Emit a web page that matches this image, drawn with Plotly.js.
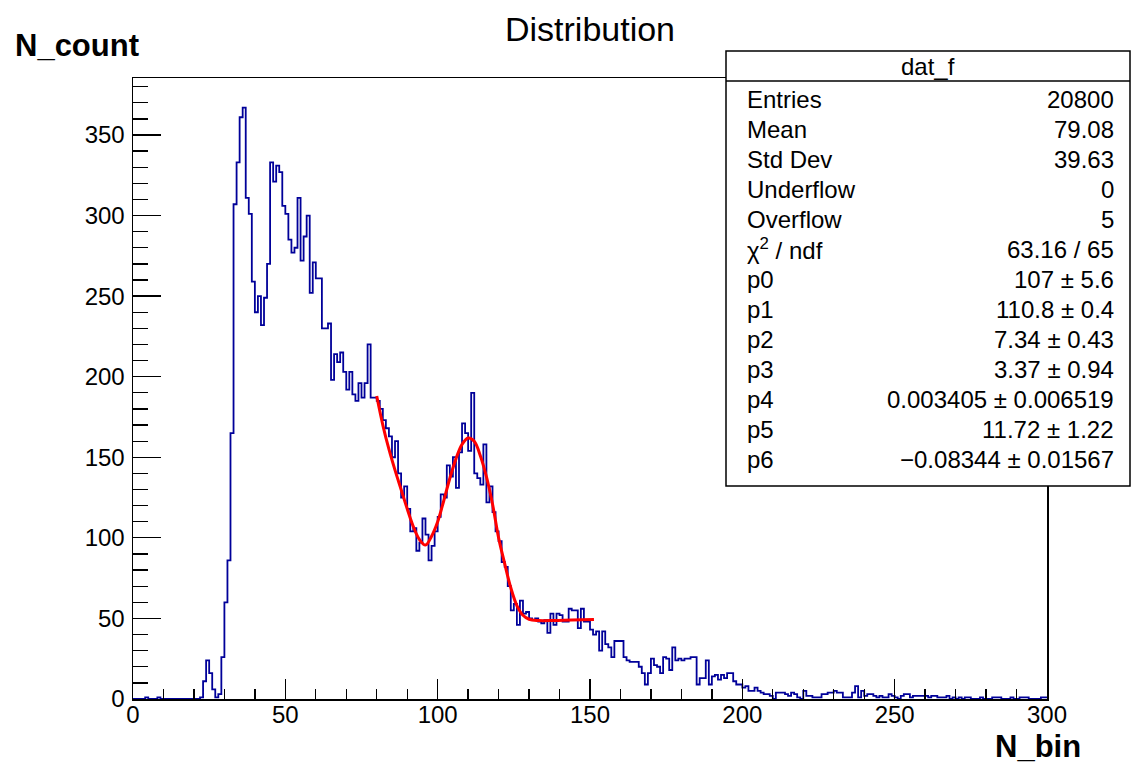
<!DOCTYPE html>
<html>
<head>
<meta charset="utf-8">
<script src="https://cdn.plot.ly/plotly-3.0.1.min.js"></script>
<style>
  html, body { margin: 0; padding: 0; background: #ffffff; }
  #chart { width: 1132px; height: 763px; }
</style>
</head>
<body>
<div id="chart"></div>
<script>
// ---- data ----
const binLow = 0;
const binWidth = 1;
const binCounts = [
  0,0,0,0,1,0,0,0,1,0, 0,0,0,0,0,0,0,0,0,0,
  0,0,1,11,24,16,6,1,3,26,
  60,86,165,307,333,361,367,311,301,259,
  240,250,232,249,270,333,321,331,327,306,
  301,285,277,280,311,272,287,300,252,271,
  261,261,230,230,233,198,214,209,215,203,
  192,203,189,185,196,187,196,220,187,187,
  185,180,173,168,163,150,160,140,125,132,
  118,104,106,92,97,112,102,86,95,104,
  113,127,125,145,138,150,131,153,171,165,
  154,190,140,137,133,158,122,132,116,104,
  98,85,82,70,55,59,46,61,53,54,
  50,49,50,48,47,49,41,53,46,53,
  52,48,48,56,55,55,44,56,48,48,
  43,40,42,30,42,34,32,26,36,36,
  36,26,24,23,23,23,20,16,9,16,
  25,21,20,16,26,25,18,32,24,25,
  24,25,25,26,26,9,13,13,24,9,
  14,15,12,15,13,16,16,11,9,9,
  7,8,5,5,7,5,4,3,3,2,
  0,4,4,4,3,2,4,3,1,0,
  5,2,2,1,1,1,3,3,4,4,
  5,4,4,1,1,1,4,8,1,5,
  2,3,3,2,1,2,1,1,3,2,
  1,0,2,3,3,1,2,2,2,2,
  2,1,2,2,1,1,1,2,0,1,
  0,1,0,1,1,0,0,0,1,0,
  0,0,1,1,1,0,0,0,1,0,
  0,1,1,1,0,0,0,0,1,1
];
// fitted curve
const fitX = [80, 82, 84, 86, 88, 90, 92, 94, 96, 98, 100, 102, 104, 106, 108, 110, 112, 114, 116, 118, 120, 122, 124, 126, 128, 130, 133, 138, 144, 151.3];
const fitY = [188, 170, 155, 142, 130, 118, 107, 99, 95.5, 101, 110, 123, 137, 149, 158, 162, 160, 151, 138, 121, 100, 84, 69, 58, 52, 49.5, 48.7, 48.7, 49, 49.3];

const xTickVals = [0, 50, 100, 150, 200, 250, 300];
const yTickVals = [0, 50, 100, 150, 200, 250, 300, 350];

const statsTitle = "dat_f";
const statsLabels = ["Entries", "Mean", "Std Dev", "Underflow", "Overflow", "χ<sup>2</sup> / ndf",
                     "p0", "p1", "p2", "p3", "p4", "p5", "p6"];
const statsValues = ["20800", "79.08", "39.63", "0", "5", "63.16 / 65",
                     "107 ± 5.6", "110.8 ± 0.4", "7.34 ± 0.43", "3.37 ± 0.94",
                     "0.003405 ± 0.006519", "11.72 ± 1.22", "−0.08344 ± 0.01567"];

const chartTitle = "Distribution";
const xTitle = "N_bin";
const yTitle = "N_count";

// ---- build step outline from bins ----
const stepX = [], stepY = [];
for (let i = 0; i < binCounts.length; i++) {
  stepX.push(binLow + i * binWidth);
  stepY.push(binCounts[i]);
}
stepX.push(binLow + binCounts.length * binWidth);
stepY.push(binCounts[binCounts.length - 1]);

// pixel helpers (plot area: x 133..1047, y 78..699)
const L = 133, R = 1047, T = 78, B = 699;
const W = 1132, H = 763;
const px = x => (x - L) / (R - L);
const py = y => (B - y) / (B - T);

const font = "Liberation Sans, Arial, Helvetica, sans-serif";

const annotations = [];
annotations.push({
  xref: 'paper', yref: 'paper', x: px(928), y: py(67), text: statsTitle,
  showarrow: false, xanchor: 'center', yanchor: 'middle',
  font: {family: font, size: 24, color: '#000'}
});
const rowTop = 99, rowStep = 30.0;
for (let i = 0; i < statsLabels.length; i++) {
  const yy = rowTop + i * rowStep;
  annotations.push({
    xref: 'paper', yref: 'paper', x: px(745), y: py(yy), text: statsLabels[i],
    showarrow: false, xanchor: 'left', yanchor: 'middle',
    font: {family: font, size: 24, color: '#000'}
  });
  annotations.push({
    xref: 'paper', yref: 'paper', x: px(1116), y: py(yy), text: statsValues[i],
    showarrow: false, xanchor: 'right', yanchor: 'middle',
    font: {family: font, size: 24, color: '#000'}
  });
}
annotations.push({
  xref: 'paper', yref: 'paper', x: px(77), y: py(46), text: '<b>' + yTitle + '</b>',
  showarrow: false, xanchor: 'center', yanchor: 'middle',
  font: {family: font, size: 31, color: '#000'}
});
annotations.push({
  xref: 'paper', yref: 'paper', x: px(1038), y: py(747), text: '<b>' + xTitle + '</b>',
  showarrow: false, xanchor: 'center', yanchor: 'middle',
  font: {family: font, size: 31, color: '#000'}
});

const shapes = [
  {type: 'rect', xref: 'paper', yref: 'paper',
   x0: px(726), x1: px(1130), y0: py(486), y1: py(51),
   fillcolor: '#ffffff', line: {color: '#000', width: 1.5}, layer: 'above'},
  {type: 'line', xref: 'paper', yref: 'paper',
   x0: px(726), x1: px(1130), y0: py(81), y1: py(81),
   line: {color: '#000', width: 1.5}, layer: 'above'}
];

const traces = [
  {x: stepX, y: stepY, type: 'scatter', mode: 'lines',
   line: {shape: 'hv', color: '#000099', width: 1.8}, hoverinfo: 'skip'},
  {x: fitX, y: fitY, type: 'scatter', mode: 'lines',
   line: {shape: 'spline', color: '#ff0000', width: 3}, hoverinfo: 'skip'}
];

const layout = {
  width: W, height: H,
  margin: {l: L, r: W - R, t: T, b: H - B, pad: 0},
  paper_bgcolor: '#ffffff', plot_bgcolor: '#ffffff',
  showlegend: false,
  title: {text: chartTitle, x: 0.5, xref: 'paper', y: 1 - 29 / H, yref: 'container',
          xanchor: 'center', yanchor: 'middle',
          font: {family: font, size: 34, color: '#000'}},
  xaxis: {
    range: [0, 300], tickvals: xTickVals, ticktext: xTickVals.map(String),
    ticks: 'inside', ticklen: 20, tickwidth: 1.3, tickcolor: '#000',
    minor: {ticks: 'inside', ticklen: 10, tickwidth: 1.3, tickcolor: '#000', dtick: 10, showgrid: false},
    showline: true, linecolor: '#000', linewidth: 1.5, mirror: true,
    showgrid: false, zeroline: false,
    tickfont: {family: font, size: 24, color: '#000'}, ticklabelstandoff: -6
  },
  yaxis: {
    range: [0, 385.35], tickvals: yTickVals, ticktext: yTickVals.map(String),
    ticks: 'inside', ticklen: 28, tickwidth: 1.3, tickcolor: '#000',
    minor: {ticks: 'inside', ticklen: 15, tickwidth: 1.3, tickcolor: '#000', dtick: 10, showgrid: false},
    showline: true, linecolor: '#000', linewidth: 1.5, mirror: true,
    showgrid: false, zeroline: false,
    tickfont: {family: font, size: 24, color: '#000'}, ticklabelstandoff: 2
  },
  annotations: annotations,
  shapes: shapes
};

Plotly.newPlot('chart', traces, layout, {displayModeBar: false, staticPlot: true});
</script>
</body>
</html>
